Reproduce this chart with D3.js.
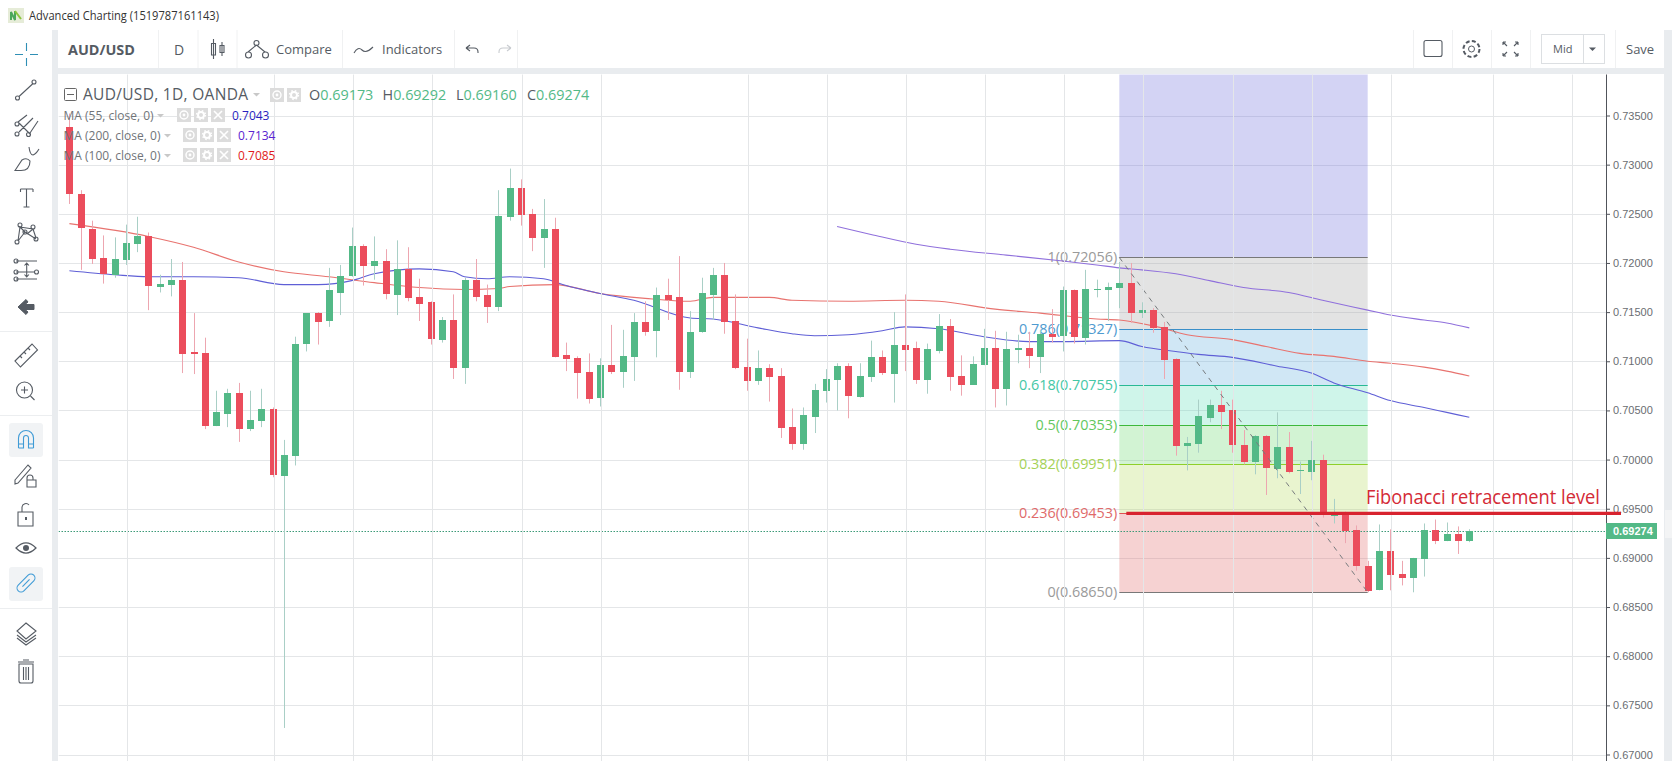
<!DOCTYPE html>
<html>
<head>
<meta charset="utf-8">
<script src="https://cdn.jsdelivr.net/npm/d3@7"></script>
<style>
	html, body { margin: 0; padding: 0; background: #fff; overflow: hidden; }
	svg { display: block; }
	text { font-family: "Open Sans", "Noto Sans", sans-serif; }
</style>
</head>
<body>
<div id="root"></div>
<script>
// AUD/USD daily candles
const opens = [.7338,.7270,.7235,.7205,.7188,.7203,.7219,.7227,.7176,.7178,.7183,.7109,.7108,.7034,.7047,.7068,.7031,.7039,.7051,.6984,.7004,.7117,.7149,.7140,.7170,.7186,.7217,.7197,.7202,.7168,.7194,.7165,.7160,.7122,.7142,.7093,.7183,.7167,.7155,.7247,.7276,.7250,.7226,.7235,.7106,.7103,.7089,.7062,.7096,.7089,.7104,.7140,.7130,.7167,.7165,.7089,.7129,.7168,.7188,.7141,.7094,.7080,.7093,.7085,.7033,.7016,.7044,.7070,.7081,.7095,.7064,.7084,.7104,.7088,.7117,.7113,.7080,.7111,.7136,.7085,.7076,.7096,.7113,.7071,.7111,.7113,.7105,.7128,.7125,.7172,.7124,.7173,.7173,.7175,.7180,.7149,.7152,.7135,.7102,.7014,.7016,.7043,.7056,.7050,.7015,.6998,.7024,.6991,.7013,.6988,.6988,.7000,.6943,.6945,.6928,.6892,.6867,.6907,.6884,.6880,.6899,.6928,.6917,.6924,.69173];
const highs = [.7352,.7274,.7243,.7228,.7226,.7239,.7247,.7231,.7188,.7204,.7201,.7149,.7124,.7070,.7072,.7078,.7070,.7072,.7053,.7020,.7125,.7149,.7150,.7195,.7198,.7236,.7219,.7227,.7214,.7223,.7216,.7184,.7161,.7145,.7168,.7185,.7204,.7178,.7274,.7296,.7285,.7255,.7265,.7246,.7119,.7105,.7108,.7103,.7137,.7132,.7149,.7161,.7175,.7184,.7207,.7151,.7185,.7195,.7200,.7168,.7123,.7111,.7097,.7093,.7052,.7053,.7077,.7092,.7098,.7098,.7098,.7121,.7111,.7150,.7168,.7120,.7118,.7148,.7143,.7106,.7105,.7133,.7131,.7130,.7127,.7130,.7132,.7153,.7176,.7173,.7193,.7183,.7180,.7201,.7200,.7160,.7154,.7140,.7103,.7023,.7061,.7061,.7070,.7061,.7030,.7025,.7025,.7048,.7028,.6998,.7019,.7005,.6960,.6947,.6933,.6897,.6934,.6929,.6897,.6900,.6935,.6939,.6936,.6932,.69292];
const lows = [.7260,.7193,.7199,.7179,.7185,.7198,.7211,.7152,.7170,.7166,.7088,.7087,.7031,.7034,.7033,.7018,.7029,.7033,.6982,.6727,.6994,.7110,.7117,.7135,.7147,.7186,.7177,.7183,.7163,.7147,.7161,.7141,.7117,.7119,.7082,.7077,.7161,.7139,.7151,.7243,.7238,.7212,.7195,.7104,.7090,.7062,.7057,.7054,.7087,.7073,.7080,.7126,.7104,.7142,.7071,.7083,.7129,.7142,.7128,.7092,.7070,.7076,.7059,.7022,.7010,.7010,.7027,.7058,.7050,.7042,.7063,.7079,.7086,.7058,.7090,.7077,.7067,.7108,.7070,.7065,.7076,.7096,.7053,.7055,.7098,.7093,.7088,.7119,.7110,.7118,.7117,.7165,.7141,.7154,.7139,.7144,.7129,.7082,.7004,.6989,.7007,.7038,.7031,.7007,.6995,.6985,.6964,.6981,.6986,.6965,.6979,.6941,.6935,.6915,.6887,.6865,.6867,.6867,.6872,.6865,.6881,.6914,.6917,.6904,.69160];
const closes = [.7270,.7235,.7204,.7189,.7204,.7220,.7227,.7176,.7179,.7183,.7108,.7107,.7034,.7048,.7068,.7031,.7040,.7051,.6984,.7005,.7118,.7149,.7140,.7172,.7187,.7217,.7197,.7202,.7168,.7194,.7164,.7158,.7122,.7142,.7093,.7183,.7166,.7155,.7248,.7276,.7249,.7226,.7235,.7105,.7102,.7088,.7062,.7096,.7089,.7105,.7140,.7130,.7167,.7162,.7089,.7130,.7169,.7188,.7140,.7093,.7080,.7093,.7084,.7032,.7016,.7045,.7071,.7082,.7095,.7064,.7085,.7104,.7088,.7117,.7112,.7080,.7112,.7136,.7084,.7076,.7097,.7113,.7071,.7112,.7113,.7105,.7128,.7125,.7172,.7124,.7174,.7174,.7176,.7180,.7149,.7152,.7134,.7101,.7014,.7017,.7044,.7056,.7049,.7014,.6998,.7024,.6991,.7013,.6988,.6989,.7000,.6945,.6945,.6928,.6891,.6867,.6907,.6883,.6880,.6900,.6928,.6917,.6924,.6917,.69274];

// moving averages: candle number and level
const ma100Bars = [0,7,11,15,19,23,27,31,35,38,39,43,47,51,55,57,62,64,69,74,77,82,86,91,93,96,99,103,106,109,112,115,117,120,122,124];
const ma100Vals = [.7240,.7227,.7216,.7201,.7191,.7186,.7180,.7175,.7173,.7174,.7176,.7178,.7169,.7164,.7161,.7165,.7165,.7162,.7161,.7162,.7161,.7153,.7149,.7143,.7142,.7136,.7127,.7122,.7115,.7108,.7105,.7100,.7098,.7094,.7090,.7085];
const ma55Bars = [0,4,7,11,15,19,22,25,27,31,34,35,37,39,42,44,47,50,55,57,61,64,66,69,72,74,77,81,85,88,93,95,98,100,103,107,110,112,115,117,120,122,124];
const ma55Vals = [.7192,.7188,.7186,.7186,.7185,.7178,.7178,.7182,.7189,.7194,.7191,.7186,.7184,.7186,.7184,.7177,.7169,.7162,.7144,.7143,.7134,.7128,.7126,.7127,.7131,.7135,.7133,.7125,.7120,.7120,.7121,.7115,.7110,.7107,.7104,.7095,.7088,.7078,.7068,.7060,.7053,.7048,.7043];
const ma200Bars = [68,71,75,78,83,88,91,93,95,98,101,104,108,111,115,117,120,122,124];
const ma200Vals = [.7237,.7229,.7219,.7214,.7208,.7202,.7198,.7195,.7193,.7189,.7182,.7175,.7170,.7162,.7152,.7147,.7142,.7139,.7134];

// fibonacci retracement, top level runs off the chart
const fibRatios = ["", "1", "0.786", "0.618", "0.5", "0.382", "0.236", "0"];
const fibPrices = [.74161, .72056, .71327, .70755, .70353, .69951, .69453, .6865];
const fibStartBar = 93, fibEndBar = 115;

const priceTicks = [.735,.73,.725,.72,.715,.71,.705,.7,.695,.69,.685,.68,.675,.67];
const timeGridBars = [5,18,25,32,40,47,60,67,74,81,88,95,103,110,117,126,133];
const lastPrice = .69274;
const ohlcLabels = ["O", "H", "L", "C"];
const ohlcValues = ["0.69173", "0.69292", "0.69160", "0.69274"];
const maNames = ["MA (55, close, 0)", "MA (200, close, 0)", "MA (100, close, 0)"];
const maLast = ["0.7043", "0.7134", "0.7085"];

const W = 1672, H = 761;
const green = "#53b987", red = "#eb4d5c", ink = "#555b63";
const fibLine = ["#6c6cda", "#787878", "#3a8fc9", "#29b994", "#3cb83c", "#8fcf2a", "#e05050", "#787878"];
const fibFill = ["rgb(108,108,218)", "rgb(162,162,162)", "rgb(98,175,222)", "rgb(95,222,185)", "rgb(105,215,108)", "rgb(182,218,95)", "rgb(225,105,105)"];
const fibText = ["", "#9a9a9a", "#4f9bd0", "#45c7a6", "#62c75e", "#a5d257", "#e06a6a", "#9a9a9a"];

const chart = { left: 58.5, right: 1606, top: 74.5, bottom: 761 };

const svg = d3.select("#root").append("svg").attr("width", W).attr("height", H);

const x = d3.scaleLinear().domain([0, 124]).range([69.4, 1469.3]);
const y = d3.scaleLinear().domain([.735, .67]).range([115.5, 754.5]);

svg.append("defs").append("clipPath").attr("id", "clip")
	.append("rect")
	.attr("x", chart.left).attr("y", chart.top)
	.attr("width", chart.right - chart.left).attr("height", chart.bottom - chart.top);

// app chrome
svg.append("rect").attr("width", W).attr("height", H).attr("fill", "#fff");
svg.append("rect").attr("x", 52).attr("y", 30).attr("width", W - 52).attr("height", H - 30).attr("fill", "#e9ecef");
svg.append("rect").attr("x", 58).attr("y", 30).attr("width", 1606).attr("height", 38).attr("fill", "#fff");
svg.append("rect").attr("x", 58).attr("y", 74).attr("width", 1606).attr("height", H - 74).attr("fill", "#fff");

const g = svg.append("g").attr("clip-path", "url(#clip)");

// grid
g.append("g").selectAll("line").data(priceTicks).join("line")
	.attr("x1", chart.left).attr("x2", chart.right)
	.attr("y1", (d) => Math.round(y(d)) + .5).attr("y2", (d) => Math.round(y(d)) + .5)
	.attr("stroke", "#e4e6e8");
svg.append("g").selectAll("line").data(timeGridBars).join("line")
	.attr("x1", (d) => Math.round(x(d) + 1) + .5).attr("x2", (d) => Math.round(x(d) + 1) + .5)
	.attr("y1", chart.top).attr("y2", chart.bottom)
	.attr("stroke", "#e4e6e8");

// fib zones, lines and labels
g.append("g").selectAll("rect").data(fibPrices.slice(0, -1)).join("rect")
	.attr("x", x(fibStartBar)).attr("width", x(fibEndBar) - x(fibStartBar))
	.attr("y", (d) => y(d))
	.attr("height", (d, i) => y(fibPrices[i + 1]) - y(d))
	.attr("fill", (d, i) => fibFill[i])
	.attr("fill-opacity", .3);
g.append("g").selectAll("line").data(fibPrices.slice(1)).join("line")
	.attr("x1", x(fibStartBar)).attr("x2", x(fibEndBar))
	.attr("y1", (d) => Math.round(y(d)) + .5).attr("y2", (d) => Math.round(y(d)) + .5)
	.attr("stroke", (d, i) => fibLine[i + 1]);
g.append("g").selectAll("text").data(fibPrices.slice(1)).join("text")
	.attr("x", x(fibStartBar) - 2).attr("y", (d) => y(d) + 5)
	.attr("text-anchor", "end")
	.attr("font-size", 14.4)
	.attr("fill", (d, i) => fibText[i + 1])
	.text((d, i) => `${fibRatios[i + 1]}(${d.toFixed(5)})`);

// moving averages
const maLine = d3.line().curve(d3.curveMonotoneX);
function drawMa(bars, vals, color) {
	g.append("path")
		.datum(bars.map((b, i) => [x(b), y(vals[i])]))
		.attr("d", maLine)
		.attr("fill", "none")
		.attr("stroke", color)
		.attr("stroke-width", 1.1);
}
drawMa(ma100Bars, ma100Vals, "#e8736f");
drawMa(ma55Bars, ma55Vals, "#5f5fd6");
drawMa(ma200Bars, ma200Vals, "#9070dc");

// last price line
g.append("line")
	.attr("x1", chart.left).attr("x2", chart.right)
	.attr("y1", Math.round(y(lastPrice)) + .5).attr("y2", Math.round(y(lastPrice)) + .5)
	.attr("stroke", "#3d9a78").attr("stroke-dasharray", "1.5,1.5");

// candles
const candles = g.append("g").selectAll("g").data(opens).join("g");
candles.append("line")
	.attr("x1", (d, i) => Math.round(x(i)) + .5).attr("x2", (d, i) => Math.round(x(i)) + .5)
	.attr("y1", (d, i) => y(highs[i])).attr("y2", (d, i) => y(lows[i]))
	.attr("stroke", (d, i) => closes[i] >= d ? "#a9cfc6" : "#eda6b0");
candles.append("rect")
	.attr("x", (d, i) => Math.round(x(i)) - 3)
	.attr("width", 7)
	.attr("y", (d, i) => Math.round(y(Math.max(d, closes[i]))))
	.attr("height", (d, i) => Math.max(1, Math.round(Math.abs(y(d) - y(closes[i])))))
	.attr("fill", (d, i) => closes[i] >= d ? green : red);

// drawn trend line of the retracement
g.append("line")
	.attr("x1", x(fibStartBar)).attr("y1", y(fibPrices[1]))
	.attr("x2", x(fibEndBar)).attr("y2", y(fibPrices[7]))
	.attr("stroke", "#777b7e").attr("stroke-dasharray", "5,5");

// price axis
const yAxis = svg.append("g")
	.attr("transform", `translate(${chart.right},0)`)
	.call(d3.axisRight(y).tickValues(priceTicks).tickFormat(d3.format(".5f")).tickSize(4).tickPadding(3));
yAxis.select(".domain").attr("stroke", "#50535a").attr("d", `M0.5,${chart.top}V${chart.bottom}`);
yAxis.selectAll(".tick line").attr("stroke", "#50535a");
yAxis.selectAll(".tick text")
	.attr("fill", "#6a6d72")
	.attr("font-size", 11)
	.style("font-family", "'Liberation Sans', Arial, sans-serif");

// pasted annotation
svg.append("line")
	.attr("x1", x(fibStartBar) + 7).attr("x2", 1621)
	.attr("y1", y(fibPrices[6])).attr("y2", y(fibPrices[6]))
	.attr("stroke", "#d8232f").attr("stroke-width", 3.2);
const note = svg.append("text")
	.attr("font-size", 20)
	.attr("fill", "#d42a36")
	.text("Fibonacci retracement level");
// squeeze the wide font into the 234px the label takes in the picture
note.attr("transform", `translate(1366,504) scale(${234 / note.node().getComputedTextLength()},1)`);

// last price tag
svg.append("rect")
	.attr("x", chart.right).attr("y", 523)
	.attr("width", 51).attr("height", 16).attr("fill", green);
svg.append("text")
	.attr("x", chart.right + 7).attr("y", y(lastPrice) + 4.5)
	.attr("font-size", 11).attr("font-weight", 700).attr("fill", "#fff")
	.style("font-family", "'Liberation Sans', Arial, sans-serif")
	.text(lastPrice.toFixed(5));

// collapse tab on the right edge
svg.append("rect").attr("x", 1665).attr("y", 510).attr("width", 7).attr("height", 28).attr("fill", "#f3f4f5");

// chart legend
const legend = svg.append("g");
legend.append("rect").attr("x", 64.5).attr("y", 88.5).attr("width", 12).attr("height", 12)
	.attr("fill", "none").attr("stroke", "#666").attr("rx", 1);
legend.append("line").attr("x1", 67).attr("x2", 74).attr("y1", 94.5).attr("y2", 94.5).attr("stroke", "#666");
legend.append("text").attr("x", 83).attr("y", 100)
	.attr("font-size", 15.5).attr("fill", ink)
	.attr("textLength", 165).attr("lengthAdjust", "spacing")
	.text("AUD/USD, 1D, OANDA");

function caret(px, py, size, color) {
	legend.append("path")
		.attr("d", `M${px},${py}h${size * 2}l${-size},${size}z`)
		.attr("fill", color);
}
function legendBtn(px, py, kind) {
	const b = legend.append("g").attr("transform", `translate(${px},${py})`);
	b.append("rect").attr("width", 14).attr("height", 14).attr("fill", "#dcdcdc");
	if (kind === 0) {
		b.append("circle").attr("cx", 7).attr("cy", 7).attr("r", 4).attr("fill", "none").attr("stroke", "#fff").attr("stroke-width", 1.4);
		b.append("circle").attr("cx", 7).attr("cy", 7).attr("r", 1.4).attr("fill", "#fff");
	} else if (kind === 1) {
		b.append("circle").attr("cx", 7).attr("cy", 7).attr("r", 3).attr("fill", "none").attr("stroke", "#fff").attr("stroke-width", 2);
		b.append("circle").attr("cx", 7).attr("cy", 7).attr("r", 4.4).attr("fill", "none").attr("stroke", "#fff").attr("stroke-dasharray", "1.5,2").attr("stroke-width", 1.5);
	} else {
		b.append("path").attr("d", "M3,3L11,11M11,3L3,11").attr("stroke", "#fff").attr("stroke-width", 1.6);
	}
}
caret(253, 93, 3.5, "#c8c8c8");
legendBtn(270, 88, 0);
legendBtn(287, 88, 1);

const ohlcX = [309, 382.5, 456, 527];
ohlcLabels.forEach((l, i) => {
	const t = legend.append("text").attr("x", ohlcX[i]).attr("y", 100).attr("font-size", 14.4);
	t.append("tspan").attr("fill", ink).text(l);
	t.append("tspan").attr("fill", green).text(ohlcValues[i]);
});

const maRowY = [120, 140, 160];
const maBtnX = [177, 183, 183];
const maValX = [232, 238, 238];
const maColors = ["#2a1fc0", "#5a24d0", "#e01b1b"];
const maCaretX = [157, 164, 164];
maNames.forEach((name, i) => {
	legend.append("text").attr("x", 63.5).attr("y", maRowY[i])
		.attr("font-size", 12).attr("fill", "#707478").text(name);
	caret(maCaretX[i], maRowY[i] - 6, 3.5, "#c8c8c8");
	[0, 1, 2].forEach((k) => legendBtn(maBtnX[i] + k * 17, maRowY[i] - 12, k));
	legend.append("text").attr("x", maValX[i]).attr("y", maRowY[i])
		.attr("font-size", 12).attr("fill", maColors[i]).text(maLast[i]);
});

// title bar
svg.append("rect").attr("x", 8).attr("y", 8).attr("width", 16).attr("height", 15).attr("fill", "#e6ecd8");
svg.append("path").attr("d", "M11,20V12L15,20V11").attr("fill", "none").attr("stroke", "#4aa85a").attr("stroke-width", 2);
svg.append("path").attr("d", "M15,11L21,19").attr("fill", "none").attr("stroke", "#8cc63f").attr("stroke-width", 2);
svg.append("text").attr("x", 29).attr("y", 20)
	.attr("font-size", 12.5).attr("fill", "#333")
	.attr("textLength", 190).attr("lengthAdjust", "spacingAndGlyphs")
	.text("Advanced Charting (1519787161143)");

// top toolbar
const bar = svg.append("g");
[158, 197.5, 236.5, 342, 454, 517, 1413, 1452, 1491, 1530, 1615].forEach((sx) => {
	bar.append("line").attr("x1", sx + .5).attr("x2", sx + .5).attr("y1", 30).attr("y2", 68).attr("stroke", "#f0f1f2");
});
bar.append("text").attr("x", 68).attr("y", 55).attr("font-size", 14.4).attr("font-weight", 700).attr("fill", ink).text("AUD/USD");
bar.append("text").attr("x", 174).attr("y", 55).attr("font-size", 14).attr("fill", ink).text("D");
bar.append("text").attr("x", 276).attr("y", 54).attr("font-size", 13).attr("fill", ink).text("Compare");
bar.append("text").attr("x", 382).attr("y", 54).attr("font-size", 13).attr("fill", ink).text("Indicators");
bar.append("text").attr("x", 1626).attr("y", 54).attr("font-size", 13).attr("fill", ink).text("Save");
bar.append("text").attr("x", 1553).attr("y", 53).attr("font-size", 11).attr("fill", ink).text("Mid");

function stroke(path, color, sw) {
	return svg.append("path").attr("d", path).attr("fill", "none")
		.attr("stroke", color || ink).attr("stroke-width", sw || 1.1);
}
function dot(cx, cy) {
	return `M${cx - 2},${cy}a2,2 0 1,0 4,0a2,2 0 1,0 -4,0`;
}
// candle type icon, compare, indicators, undo, redo
stroke("M213.5,39V59M211.5,43.5h4V55h-4zM222,42V56M220,45.5h4v7h-4z");
stroke("M256.5,45L248,52M256.5,45L265,52M245.5,55a3,3 0 1,0 6,0a3,3 0 1,0 -6,0M262.5,55a3,3 0 1,0 6,0a3,3 0 1,0 -6,0M254,43a2.5,2.5 0 1,0 5,0a2.5,2.5 0 1,0 -5,0");
stroke("M354,53Q358,46 362,50T373,47");
stroke("M466,48h8q4,0 4,4v1M466,48l4,-3M466,48l4,3");
stroke("M511,48h-8q-4,0 -4,4v1M511,48l-4,-3M511,48l-4,3", "#c9ccd0");
// layout box, gear, fullscreen, price source box
svg.append("rect").attr("x", 1424).attr("y", 40.5).attr("width", 18).attr("height", 16).attr("rx", 2).attr("fill", "none").attr("stroke", ink).attr("stroke-width", 1.1);
svg.append("circle").attr("cx", 1471.5).attr("cy", 49).attr("r", 3).attr("fill", "none").attr("stroke", ink);
svg.append("circle").attr("cx", 1471.5).attr("cy", 49).attr("r", 8).attr("fill", "none").attr("stroke", ink).attr("stroke-width", 2).attr("stroke-dasharray", "4,2.3");
stroke("M1503,42l4,4M1503,42v3M1503,42h3M1518,42l-4,4M1518,42v3M1518,42h-3M1503,56l4,-4M1503,56v-3M1503,56h3M1518,56l-4,-4M1518,56v-3M1518,56h-3");
svg.append("rect").attr("x", 1541.5).attr("y", 34.5).attr("width", 63).attr("height", 29).attr("fill", "none").attr("stroke", "#dcdfe2");
svg.append("line").attr("x1", 1583.5).attr("x2", 1583.5).attr("y1", 34.5).attr("y2", 63.5).attr("stroke", "#dcdfe2");
svg.append("path").attr("d", "M1589,47.5h7l-3.5,3.5z").attr("fill", ink);

// left toolbar
[331, 415, 608].forEach((sy) => {
	svg.append("line").attr("x1", 0).attr("x2", 52).attr("y1", sy + .5).attr("y2", sy + .5).attr("stroke", "#eceef0");
});
[423, 567].forEach((sy) => {
	svg.append("rect").attr("x", 9).attr("y", sy).attr("width", 34).attr("height", 34).attr("rx", 3).attr("fill", "#f1f3f5");
});
const blue = "#3f9bd6";
stroke("M15,54.5h8M30,54.5h8M26.5,43v8M26.5,58v8", "#2f8fb5");
stroke("M19,96.5L32.5,84" + dot(17.5, 98) + dot(34, 82));
stroke("M19,123L30,134M19,132L33,118M30,133L38,121M18,122L27,115" + dot(17, 124) + dot(17, 134) + dot(28.5, 134.5));
stroke("M15,170.5L22,160Q27,157 30,161Q30,170.5 21,170.5zM29,147Q30,155 33,155Q36,154 39,149");
stroke("M20.5,189H33M26.5,189V207M23.5,207H29.5M20.5,189v3M33,189v3");
stroke("M18,241L20,227L25,232M20,227L33,229M25,232L36,239M25,232L18,241M33,229L36,238M33,229L27,234" + dot(20, 225) + dot(33, 227) + dot(25, 232) + dot(17, 242) + dot(36, 239));
stroke("M16,261H37M16,279H37M16,272H34M26.7,263V277M24.5,265.5l2.2,-2.5l2.2,2.5M24.5,274.5l2.2,2.5l2.2,-2.5" + dot(16, 261) + dot(16, 272) + dot(36.5, 272) + dot(16, 279));
svg.append("path").attr("d", "M18,307L26,299.5L28,302L25,304.5H34V309.5H25L28,312L26,314.5z").attr("fill", ink).attr("stroke", ink).attr("stroke-linejoin", "round");
stroke("M15,361L32,344L37.5,350L20.5,367zM20,356l2,2M24,352l2,2M28,348l2,2");
svg.append("circle").attr("cx", 24.5).attr("cy", 390).attr("r", 8).attr("fill", "none").attr("stroke", ink).attr("stroke-width", 1.1);
stroke("M21,390h7M24.5,386.5v7M30.5,396l4,4");
stroke("M18.5,448V438a7.5,7.5 0 0,1 15,0V448M18.5,448h5V438a2.5,2.5 0 0,1 5,0V448h5M18.5,444h5M28.5,444h5", blue);
stroke("M15,480L28,465L31,468L18,483L15,484zM27,480v-2a3,3 0 0,1 6,0v2M27,480h9v7h-9z");
stroke("M18,512h15v14h-15zM22,512v-5a4,4 0 0,1 7,-2");
svg.append("rect").attr("x", 25).attr("y", 517).attr("width", 2).attr("height", 3).attr("fill", ink);
stroke("M16,548Q26,538 36,548Q26,558 16,548z", ink, 1.2);
svg.append("circle").attr("cx", 26).attr("cy", 548).attr("r", 3).attr("fill", ink);
// link, a long rounded loop with a bar inside
const link = svg.append("g").attr("transform", "rotate(-45 26 583)");
link.append("rect").attr("x", 15).attr("y", 579).attr("width", 22).attr("height", 8).attr("rx", 4)
	.attr("fill", "none").attr("stroke", blue).attr("stroke-width", 1.1);
link.append("line").attr("x1", 21).attr("x2", 31).attr("y1", 583).attr("y2", 583).attr("stroke", blue).attr("stroke-width", 1.1);
stroke("M26,623L36,631L26,639L17,631zM17,635L26,642L36,635M17,638L26,645L36,638");
stroke("M19,664v17q0,2 2,2h10q2,0 2,-2v-17zM18,662h16M23,660h6M23.5,667v13M26,667v13M28.5,667v13");
</script>
</body>
</html>
